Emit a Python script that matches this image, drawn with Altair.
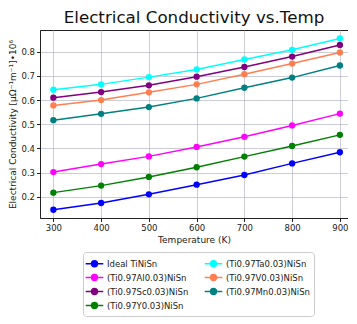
import altair as alt
import pandas as pd

temps = [300, 400, 500, 600, 700, 800, 900]
series_names = [
    "Ideal TiNiSn",
    "(Ti0.97Al0.03)NiSn",
    "(Ti0.97Sc0.03)NiSn",
    "(Ti0.97Y0.03)NiSn",
    "(Ti0.97Ta0.03)NiSn",
    "(Ti0.97V0.03)NiSn",
    "(Ti0.97Mn0.03)NiSn",
]
ideal = [0.146, 0.174, 0.210, 0.250, 0.290, 0.338, 0.384]
al = [0.302, 0.335, 0.367, 0.406, 0.448, 0.495, 0.544]
sc = [0.610, 0.633, 0.661, 0.697, 0.737, 0.780, 0.828]
y_dop = [0.217, 0.246, 0.282, 0.322, 0.366, 0.410, 0.456]
ta = [0.643, 0.665, 0.695, 0.727, 0.768, 0.808, 0.855]
v = [0.578, 0.600, 0.632, 0.665, 0.707, 0.751, 0.797]
mn = [0.517, 0.543, 0.571, 0.607, 0.651, 0.693, 0.743]
colors = ["#0000ff", "#ff00ff", "#800080", "#008000", "#00ffff", "#ff7f50", "#008080"]
y_ticks = [0.2, 0.3, 0.4, 0.5, 0.6, 0.7, 0.8]
x_ticks = [300, 400, 500, 600, 700, 800, 900]

all_series = [ideal, al, sc, y_dop, ta, v, mn]
rows = []
for name, vals in zip(series_names, all_series):
    for t, val in zip(temps, vals):
        rows.append({"Temperature": t, "Conductivity": val, "Series": name})
df = pd.DataFrame(rows)

FONT = "DejaVu Sans"

chart = alt.Chart(df).mark_line(
    strokeWidth=1.5,
    point=alt.OverlayMarkDef(filled=True, size=40, opacity=1),
).encode(
    x=alt.X("Temperature:Q",
            scale=alt.Scale(domain=[272, 917], nice=False, zero=False),
            axis=alt.Axis(values=x_ticks, title="Temperature (K)", format="d")),
    y=alt.Y("Conductivity:Q",
            scale=alt.Scale(domain=[0.112, 0.89], nice=False, zero=False),
            axis=alt.Axis(values=y_ticks, format=".1f",
                          title="Electrical Conductivity [μΩ⁻¹m⁻¹]•10⁶")),
    color=alt.Color("Series:N",
                    scale=alt.Scale(domain=series_names, range=colors),
                    legend=alt.Legend(
                        title=None, orient="none", legendX=43, legendY=222,
                        columns=2, columnPadding=12, rowPadding=0,
                        symbolType="M-1.35,0L1.35,0M-0.45,0A0.45,0.45,0,1,1,0.45,0A0.45,0.45,0,1,1,-0.45,0Z",
                        symbolSize=170, symbolStrokeWidth=1.5,
                        labelFontSize=8.5, labelFont=FONT, labelColor="#222222",
                        labelOffset=5,
                        strokeColor="#cccccc", cornerRadius=3, padding=4,
                        fillColor="white")),
    order=alt.Order("Temperature:Q"),
).properties(
    width=308, height=188,
    title=alt.Title("Electrical Conductivity vs.Temp", fontSize=16.7, font=FONT,
                    fontWeight="normal", color="#111111", offset=3),
    padding={"top": 2, "left": 0, "right": 0, "bottom": 0},
).configure_view(
    stroke="#222222", strokeWidth=1,
).configure_axis(
    labelFont=FONT, titleFont=FONT, labelFontSize=8.5, titleFontSize=9,
    titleFontWeight="normal", labelColor="#222222", titleColor="#222222",
    gridColor="#b0b0c0", gridOpacity=0.8, gridWidth=0.8,
    domainColor="#222222", tickColor="#222222", tickSize=3.5,
    labelPadding=2,
).configure_axisY(
    titlePadding=3,
).configure_axisX(
    titlePadding=3,
)

chart.save("out.html", embed_options={"renderer": "svg", "actions": False})
